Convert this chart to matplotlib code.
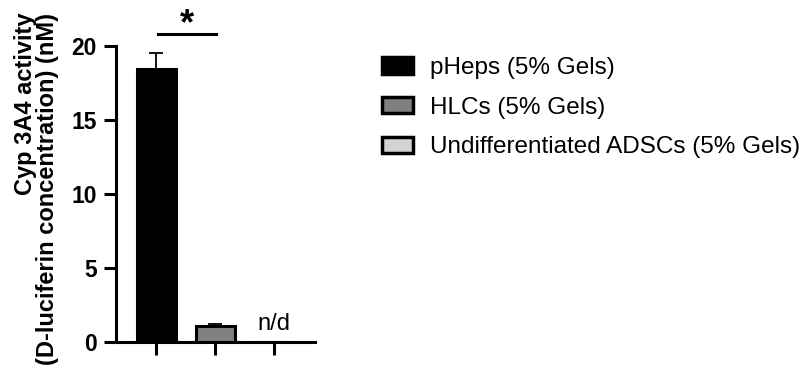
import numpy as np
import matplotlib.pyplot as plt
from matplotlib.patches import Patch

plt.rcParams['font.family'] = ['Liberation Sans', 'DejaVu Sans']

groups = ['pHeps (5% Gels)', 'HLCs (5% Gels)', 'Undifferentiated ADSCs (5% Gels)']
means = [18.4, 1.05, 0.0]
sems = [1.1, 0.15, 0.0]
colors = ['#000000', '#808080', '#d3d3d3']
yticks = [0, 5, 10, 15, 20]

fig = plt.figure(figsize=(8.07, 3.77), dpi=100)
ax = fig.add_axes([0.1437, 0.0936, 0.2466, 0.7852])

x = np.arange(len(groups))
ax.bar(x, means, width=0.66, color=colors, edgecolor='black', linewidth=2.2, zorder=3)
ax.errorbar(x[:2], means[:2], yerr=[[0, 0], sems[:2]], fmt='none', ecolor='black',
            elinewidth=1.3, capsize=4.7, capthick=1.3, zorder=2)

# not detected label for the third group
ax.text(2, 0.8, 'n/d', ha='center', va='baseline', fontsize=17)

# significance bracket
ax.plot([0.04, 1.01], [20.8, 20.8], color='black', lw=2.2, clip_on=False)
ax.text(0.52, 20.75, '*', ha='center', va='baseline', fontsize=26, fontweight='bold')

ax.set_xlim(-0.68, 2.69)
ax.set_ylim(0, 20)
ax.set_yticks(yticks)
ax.set_xticks(x)
ax.set_xticklabels([])
for s in ['top', 'right']:
    ax.spines[s].set_visible(False)
for s in ['left', 'bottom']:
    ax.spines[s].set_linewidth(2.2)
ax.tick_params(axis='both', width=2.2, length=9, labelsize=16.5, pad=5)
for lab in ax.get_yticklabels():
    lab.set_fontweight('bold')

fig.text(0.045, 0.966, 'Cyp 3A4 activity\n(D-luciferin concentration) (nM)',
         rotation=90, ha='center', va='top', multialignment='right',
         fontsize=17, fontweight='bold', linespacing=0.95)

handles = [Patch(facecolor=c, edgecolor='black', linewidth=2.5) for c in colors]
fig.legend(handles, groups, loc='upper left', bbox_to_anchor=(0.4734, 0.849),
           frameon=False, fontsize=17.5, handlelength=1.27, handleheight=0.66,
           handletextpad=0.7, labelspacing=0.73, borderpad=0, borderaxespad=0)

fig.savefig('out.png', dpi=100)
